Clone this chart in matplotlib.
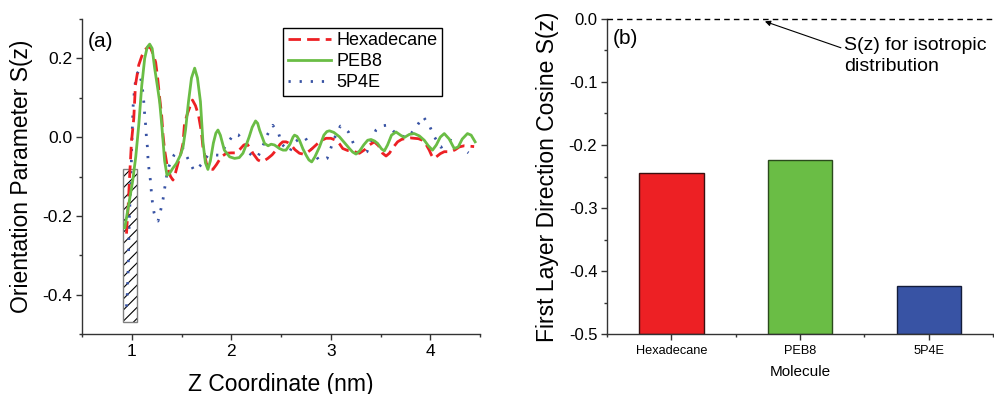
import matplotlib
matplotlib.use("Agg")
import matplotlib.pyplot as plt
from matplotlib.patches import Rectangle
from matplotlib.ticker import MultipleLocator

plt.rcParams['font.family'] = ['Liberation Sans', 'DejaVu Sans']
plt.rcParams['hatch.linewidth'] = 0.8

# ---- (a) orientation parameter profiles ----
hexa_z = [0.947, 0.965, 0.98, 0.997, 1.02, 1.037, 1.07, 1.10, 1.13, 1.165, 1.19, 1.215, 1.24,
          1.26, 1.28, 1.30, 1.314, 1.33, 1.36, 1.39, 1.414, 1.44, 1.464, 1.49, 1.515, 1.53,
          1.56, 1.59, 1.61, 1.64, 1.67, 1.70, 1.715, 1.75, 1.78, 1.815, 1.85, 1.90, 1.95,
          2.00, 2.05, 2.09, 2.126, 2.16, 2.19, 2.217, 2.267, 2.30, 2.33, 2.367, 2.41, 2.45,
          2.49, 2.517, 2.55, 2.568, 2.60, 2.64, 2.685, 2.72, 2.752, 2.80, 2.83, 2.869, 2.91,
          2.953, 3.00, 3.053, 3.09, 3.12, 3.17, 3.22, 3.237, 3.287, 3.34, 3.387, 3.437, 3.48,
          3.52, 3.555, 3.588, 3.63, 3.671, 3.71, 3.755, 3.80, 3.838, 3.88, 3.922, 3.96, 3.989,
          4.01, 4.032, 4.06, 4.10, 4.14, 4.206, 4.25, 4.29, 4.34, 4.39, 4.44]
hexa_s = [-0.245, -0.17, -0.092, -0.012, 0.047, 0.132, 0.183, 0.205, 0.221, 0.229, 0.226, 0.21,
          0.19, 0.15, 0.10, 0.056, 0.005, -0.033, -0.08, -0.10, -0.109, -0.09, -0.067, -0.045,
          -0.016, 0.035, 0.06, 0.081, 0.094, 0.08, 0.056, 0.013, -0.025, -0.067, -0.08, -0.082,
          -0.07, -0.05, -0.041, -0.04, -0.04, -0.03, -0.02, -0.018, -0.028, -0.041, -0.058,
          -0.062, -0.06, -0.054, -0.045, -0.033, -0.018, -0.012, -0.012, -0.014, -0.02, -0.032,
          -0.041, -0.043, -0.041, -0.032, -0.025, -0.016, -0.008, -0.003, -0.003, -0.008,
          -0.018, -0.029, -0.034, -0.035, -0.037, -0.041, -0.032, -0.02, -0.012, -0.022, -0.041,
          -0.048, -0.041, -0.025, -0.012, -0.006, -0.003, -0.002, -0.003, -0.004, -0.008, -0.02,
          -0.033, -0.045, -0.054, -0.05, -0.042, -0.037, -0.037, -0.032, -0.025, -0.022, -0.023,
          -0.024]

peb8_z = [0.93, 0.97, 1.01, 1.04, 1.07, 1.10, 1.13, 1.155, 1.18, 1.205, 1.23, 1.26, 1.28, 1.30,
          1.315, 1.33, 1.354, 1.38, 1.41, 1.448, 1.49, 1.515, 1.54, 1.57, 1.60, 1.632, 1.66,
          1.69, 1.715, 1.74, 1.765, 1.79, 1.82, 1.845, 1.866, 1.89, 1.93, 1.983, 2.033, 2.08,
          2.117, 2.15, 2.18, 2.21, 2.244, 2.265, 2.284, 2.334, 2.37, 2.40, 2.434, 2.484, 2.52,
          2.55, 2.59, 2.62, 2.635, 2.66, 2.685, 2.72, 2.752, 2.78, 2.808, 2.84, 2.886, 2.93,
          2.96, 2.986, 3.03, 3.086, 3.14, 3.187, 3.22, 3.253, 3.29, 3.33, 3.37, 3.404, 3.44,
          3.47, 3.51, 3.538, 3.57, 3.61, 3.655, 3.70, 3.738, 3.79, 3.838, 3.89, 3.939, 3.98,
          4.022, 4.06, 4.10, 4.14, 4.19, 4.24, 4.28, 4.32, 4.373, 4.41, 4.45]
peb8_s = [-0.23, -0.17, -0.11, -0.05, 0.03, 0.13, 0.20, 0.228, 0.236, 0.225, 0.175, 0.125, 0.09,
          0.035, -0.012, -0.06, -0.097, -0.092, -0.08, -0.067, -0.045, -0.025, 0.018, 0.09,
          0.15, 0.175, 0.15, 0.09, -0.012, -0.065, -0.082, -0.06, -0.015, 0.01, 0.018, 0.005,
          -0.033, -0.05, -0.054, -0.052, -0.041, -0.02, 0.001, 0.025, 0.041, 0.035, 0.018,
          -0.016, -0.022, -0.018, -0.02, -0.029, -0.033, -0.033, -0.018, 0.0, 0.005, 0.002,
          -0.008, -0.03, -0.046, -0.058, -0.063, -0.05, -0.025, 0.005, 0.014, 0.016, 0.012,
          0.001, -0.015, -0.029, -0.038, -0.043, -0.035, -0.02, -0.008, -0.006, -0.01, -0.016,
          -0.03, -0.035, -0.02, 0.005, 0.013, 0.005, -0.001, 0.007, 0.009, 0.003, -0.008,
          -0.022, -0.033, -0.02, 0.0, 0.009, -0.005, -0.029, -0.025, -0.005, 0.009, 0.005,
          -0.012]

p5p4e_z = [0.947, 0.955, 0.963, 0.968, 0.973, 0.98, 0.99, 1.00, 1.013, 1.03, 1.047, 1.07, 1.097,
           1.113, 1.123, 1.13, 1.14, 1.147, 1.157, 1.163, 1.173, 1.187, 1.197, 1.207, 1.224,
           1.245, 1.264, 1.29, 1.314, 1.33, 1.348, 1.374, 1.424, 1.47, 1.515, 1.57, 1.625,
           1.66, 1.70, 1.765, 1.82, 1.88, 1.95, 2.026, 2.07, 2.117, 2.167, 2.22, 2.267, 2.317,
           2.36, 2.417, 2.477, 2.508, 2.585, 2.642, 2.69, 2.742, 2.808, 2.876, 2.92, 2.963,
           3.003, 3.043, 3.096, 3.13, 3.177, 3.22, 3.27, 3.32, 3.364, 3.404, 3.454, 3.50, 3.555,
           3.61, 3.665, 3.771, 3.81, 3.855, 3.929, 3.996, 4.04, 4.106, 4.15, 4.206, 4.29, 4.383]
p5p4e_s = [-0.43, -0.397, -0.342, -0.287, -0.232, -0.177, -0.122, -0.02, 0.077, 0.128, 0.158,
           0.168, 0.141, 0.111, 0.083, 0.056, 0.029, 0.001, -0.025, -0.054, -0.082, -0.109,
           -0.139, -0.164, -0.192, -0.21, -0.213, -0.186, -0.158, -0.131, -0.102, -0.074,
           -0.046, -0.035, -0.029, -0.058, -0.085, -0.08, -0.069, -0.046, -0.045, -0.046, -0.02,
           0.008, 0.006, -0.009, -0.037, -0.05, -0.05, -0.023, 0.005, 0.03, 0.008, -0.018,
           -0.037, -0.012, -0.003, -0.001, -0.031, -0.057, -0.058, -0.054, -0.026, 0.001, 0.028,
           0.025, 0.013, -0.012, -0.04, -0.042, -0.037, -0.009, 0.018, 0.028, 0.03, 0.02, 0.006,
           -0.001, 0.01, 0.025, 0.052, 0.026, 0.001, -0.026, -0.02, -0.008, -0.023, -0.04]

# hatched wall region (z range, S range)
wall_z = [0.91, 1.05]
wall_s = [-0.47, -0.081]

# ---- (b) first layer direction cosine ----
molecules = ['Hexadecane', 'PEB8', '5P4E']
first_layer_s = [-0.245, -0.224, -0.424]

RED = '#ED2024'
GREEN = '#6ABD45'
BLUE = '#3853A4'
SPINE = '#333333'

fig = plt.figure(figsize=(9.94, 3.94), dpi=100)
ax1 = fig.add_axes([0.0825, 0.152, 0.4005, 0.80])
ax2 = fig.add_axes([0.6107, 0.152, 0.3883, 0.80])

for ax in (ax1, ax2):
    for side in ('top', 'right'):
        ax.spines[side].set_visible(False)
    for side in ('left', 'bottom'):
        ax.spines[side].set_color(SPINE)
        ax.spines[side].set_linewidth(1.0)
    ax.tick_params(which='both', direction='out', color=SPINE, width=1.0)
    ax.tick_params(which='major', length=4)
    ax.tick_params(which='minor', length=2.5)

# panel (a)
wx, wy = wall_z[0], wall_s[0]
ww, wh = wall_z[1] - wall_z[0], wall_s[1] - wall_s[0]
ax1.add_patch(Rectangle((wx, wy), ww, wh, facecolor='white', edgecolor='black',
                        hatch='///', lw=0, zorder=1))
ax1.add_patch(Rectangle((wx, wy), ww, wh, facecolor='none', edgecolor='#808080',
                        lw=1.0, zorder=1.5))
ax1.plot(hexa_z, hexa_s, color=RED, lw=2.0, ls=(0, (4.5, 2.2)), label='Hexadecane', zorder=3)
ax1.plot(peb8_z, peb8_s, color=GREEN, lw=2.0, label='PEB8', zorder=4)
ax1.plot(p5p4e_z, p5p4e_s, color=BLUE, lw=2.0, ls=(0, (0.8, 3.2)), label='5P4E', zorder=2)

ax1.set_xlim(0.5, 4.5)
ax1.set_ylim(-0.5, 0.3)
ax1.xaxis.set_major_locator(MultipleLocator(1))
ax1.xaxis.set_minor_locator(MultipleLocator(0.5))
ax1.yaxis.set_major_locator(MultipleLocator(0.2))
ax1.yaxis.set_minor_locator(MultipleLocator(0.1))
ax1.yaxis.set_major_formatter(plt.FuncFormatter(lambda v, p: f'{v:.1f}'))
ax1.tick_params(labelsize=12.5, pad=3)
ax1.set_xlabel('Z Coordinate (nm)', fontsize=16.5, labelpad=10)
ax1.set_ylabel('Orientation Parameter S(z)', fontsize=16.5, labelpad=7)
ax1.text(0.015, 0.927, '(a)', transform=ax1.transAxes, fontsize=15, va='center', ha='left')
leg = ax1.legend(loc='upper left', bbox_to_anchor=(0.505, 0.972), fontsize=13,
                 frameon=True, fancybox=False, edgecolor='black', framealpha=1,
                 handlelength=2.4, handletextpad=0.3, labelspacing=0.22, borderpad=0.25,
                 borderaxespad=0)
leg.get_frame().set_linewidth(1.0)

# panel (b): bars rise from the bottom of the axis to each value
base = -0.5
xpos = [1, 2, 3]
bar_edges = ['#3a1010', '#2a4a1c', '#141c3a']
ax2.bar(xpos, [v - base for v in first_layer_s], bottom=base, width=0.5,
        color=[RED, GREEN, BLUE], edgecolor=bar_edges, linewidth=1.0, zorder=2)
ax2.axhline(0.0, color='black', lw=1.0, ls=(0, (4, 3)), clip_on=False, zorder=3)
ax2.set_xlim(0.5, 3.5)
ax2.set_ylim(-0.5, 0.0)
ax2.set_xticks(xpos)
ax2.set_xticklabels(molecules, fontsize=9.2)
ax2.xaxis.set_minor_locator(MultipleLocator(0.5))
ax2.yaxis.set_major_locator(MultipleLocator(0.1))
ax2.yaxis.set_minor_locator(MultipleLocator(0.05))
ax2.yaxis.set_major_formatter(plt.FuncFormatter(lambda v, p: f'{v:.1f}'))
ax2.tick_params(axis='y', labelsize=12, pad=3)
ax2.set_xlabel('Molecule', fontsize=11, labelpad=6)
ax2.set_ylabel('First Layer Direction Cosine S(z)', fontsize=16.5, labelpad=7)
ax2.text(0.016, 0.937, '(b)', transform=ax2.transAxes, fontsize=15, va='center', ha='left')
ax2.annotate('S(z) for isotropic\ndistribution', xy=(1.727, -0.004), xytext=(2.34, -0.059),
             fontsize=14, ha='left', va='center', linespacing=1.3,
             arrowprops=dict(arrowstyle='-|>', color='black', lw=0.8,
                             shrinkA=0, shrinkB=0, mutation_scale=8,
                             relpos=(-0.02, 0.72)))

fig.savefig('out.png', dpi=100)
